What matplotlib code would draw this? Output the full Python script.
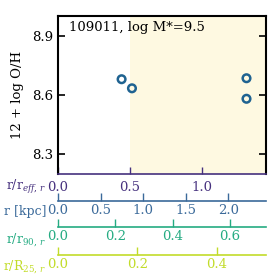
import matplotlib
matplotlib.use("Agg")
import matplotlib.pyplot as plt

plt.rcParams['font.family'] = ['DejaVu Serif']
plt.rcParams['mathtext.fontset'] = 'dejavuserif'

# data (radius in units of r_eff, metallicity)
r_reff = [0.442, 0.514, 1.31, 1.31]
oh = [8.680, 8.634, 8.685, 8.581]
title = "109011, log M*=9.5"

# conversions from r/r_eff to the other radius scales
reff_kpc = 1.688
reff_r90 = 0.502
reff_r25 = 0.362

c_eff = '#46317e'
c_kpc = '#3b6a9a'
c_r90 = '#25ab82'
c_r25 = '#c2dc2a'

fig = plt.figure(figsize=(2.77, 2.77), dpi=100)
ax = fig.add_axes([0.2094, 0.372, 0.7506, 0.570])

ax.axvspan(0.5, 1.445, color='#fef9e1', zorder=0, lw=0)
ax.scatter(r_reff, oh, s=30, facecolor='none', edgecolor='#1f6391',
           linewidth=1.8, zorder=3)

ax.set_xlim(0, 1.445)
ax.set_ylim(8.2, 9.0)
ax.set_yticks([8.3, 8.6, 8.9])
ax.set_xticks([0.0, 0.5, 1.0])
ax.tick_params(axis='y', direction='in', length=5, width=1.2,
               right=True, labelsize=9.5)
ax.tick_params(axis='x', direction='in', length=5, width=1.0,
               colors=c_eff, labelsize=9.5, pad=5)
for s in ['top', 'left', 'right']:
    ax.spines[s].set_linewidth(1.5)
ax.spines['bottom'].set_color(c_eff)
ax.spines['bottom'].set_linewidth(1.2)
ax.set_ylabel("12 + log O/H", fontsize=9.5, labelpad=6)
ax.text(0.055, 0.97, title, transform=ax.transAxes, ha='left', va='top',
        fontsize=9.5)

# extra radius axes below the main one
extra = [
    (-0.171, reff_kpc, [0.0, 0.5, 1.0, 1.5, 2.0], c_kpc),
    (-0.337, reff_r90, [0.0, 0.2, 0.4, 0.6], c_r90),
    (-0.513, reff_r25, [0.0, 0.2, 0.4], c_r25),
]
for loc, k, ticks, col in extra:
    sec = ax.secondary_xaxis(loc, functions=(lambda x, k=k: x * k,
                                             lambda x, k=k: x / k))
    sec.set_xticks(ticks)
    sec.tick_params(direction='in', length=6, width=1.0, colors=col,
                    labelsize=9.5, pad=2)
    sec.spines['bottom'].set_color(col)
    sec.spines['bottom'].set_linewidth(1.2)
    for t in sec.get_xticklabels():
        t.set_color(col)

# axis names to the left of the tick labels
labels = [(187, c_eff, r"r/r$_{eff,\,r}$"), (212, c_kpc, "r [kpc]"),
          (240, c_r90, r"r/r$_{90,\,r}$"), (267, c_r25, r"r/R$_{25,\,r}$")]
for ypx, col, lab in labels:
    fig.text(46 / 277, 1 - ypx / 277, lab, ha='right', va='center',
             color=col, fontsize=9)

fig.savefig("out.png", dpi=100)
